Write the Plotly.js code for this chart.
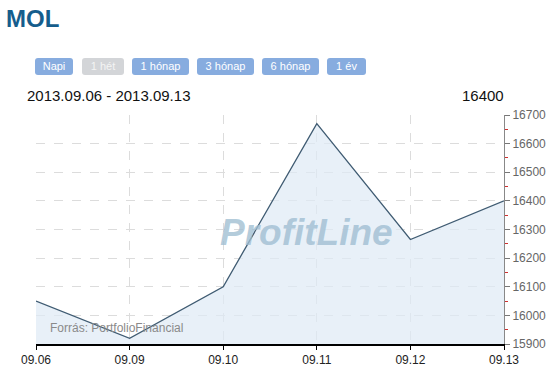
<!DOCTYPE html>
<html><head><meta charset="utf-8">
<script src="https://cdn.plot.ly/plotly-3.0.1.min.js"></script>
<style>
body{margin:0;padding:0;background:#fff;font-family:"Liberation Sans",Arial,sans-serif;}
#wrap{position:relative;width:554px;height:371px;overflow:hidden;}
#chart{position:absolute;left:0;top:0;width:554px;height:371px;}
.hdr{position:absolute;z-index:2;white-space:nowrap;}
#title{left:6px;top:5px;font-size:24px;font-weight:bold;color:#155d8c;}
.btn{position:absolute;z-index:2;top:58px;height:17px;line-height:17px;font-size:11px;color:#fff;background:#87acdf;border-radius:3px;text-align:center;}
.btn.off{background:#d3d5d8;color:#f4f4f4;}
#range{left:27px;top:87px;font-size:15px;color:#111;}
#last{left:462px;top:87px;font-size:15px;color:#111;}
</style></head>
<body><div id="wrap">
<div id="chart"></div>
<div id="title" class="hdr">MOL</div>
<div id="btns"></div>
<div id="range" class="hdr">2013.09.06 - 2013.09.13</div>
<div id="last" class="hdr">16400</div>
</div>
<script>
const dates = ["09.06","09.09","09.10","09.11","09.12","09.13"];
const prices = [16050, 15920, 16100, 16670, 16265, 16400];
const buttons = ["Napi","1 hét","1 hónap","3 hónap","6 hónap","1 év"];
const yTicks = [15900,16000,16100,16200,16300,16400,16500,16600,16700];

const btnPos = [[35,38],[82,42],[132,57],[197,57],[262,57],[327,39]];
const bc = document.getElementById('btns');
buttons.forEach((b,i)=>{
  const d=document.createElement('div');
  d.className='btn'+(i===1?' off':'');
  d.style.left=btnPos[i][0]+'px'; d.style.width=btnPos[i][1]+'px';
  d.textContent=b; bc.appendChild(d);
});

const trace = {
  x: dates, y: prices, type:'scatter', mode:'lines',
  line:{color:'#3f5b72', width:1.3},
  fill:'tozeroy', fillcolor:'rgba(222,234,245,0.7)',
  hoverinfo:'skip'
};
const layout = {
  width:554, height:371,
  margin:{l:36, r:50, t:115, b:27},
  paper_bgcolor:'rgba(0,0,0,0)', plot_bgcolor:'#fff',
  showlegend:false,
  font:{family:'"Liberation Sans", Arial, sans-serif', size:12, color:'#222'},
  xaxis:{type:'category', range:[0,5], showgrid:true, gridcolor:'#dcdcdc', griddash:'dash', gridwidth:1,
    showline:true, linecolor:'#000', linewidth:1.5, ticks:'outside', ticklen:4, tickcolor:'#000',
    tickfont:{size:12, color:'#222'}, zeroline:false, fixedrange:true},
  yaxis:{side:'right', range:[15900,16700], tickvals:yTicks, ticktext:yTicks.map(String),
    showgrid:true, gridcolor:'#dcdcdc', griddash:'dash', gridwidth:1,
    showline:true, linecolor:'#888', linewidth:1, ticks:'outside', ticklen:5, tickcolor:'#777',
    minor:{dtick:50, tick0:15900, ticks:'outside', ticklen:3, tickcolor:'#d03030', showgrid:false},
    tickfont:{size:12, color:'#666'}, zeroline:false, fixedrange:true},
  annotations:[
    {xref:'paper', yref:'paper', x:0.577, y:0.485, text:'<b><i>ProfitLine</i></b>', showarrow:false,
     font:{size:37, color:'rgba(160,190,210,0.8)', family:'"Liberation Sans", Arial, sans-serif'}},
    {xref:'paper', yref:'paper', x:0.026, y:0.03, xanchor:'left', yanchor:'bottom', text:'Forrás: PortfolioFinancial', showarrow:false,
     font:{size:12, color:'#8a8a8a'}}
  ]
};
Plotly.newPlot('chart',[trace],layout,{displayModeBar:false, staticPlot:true});
</script>
</body></html>
